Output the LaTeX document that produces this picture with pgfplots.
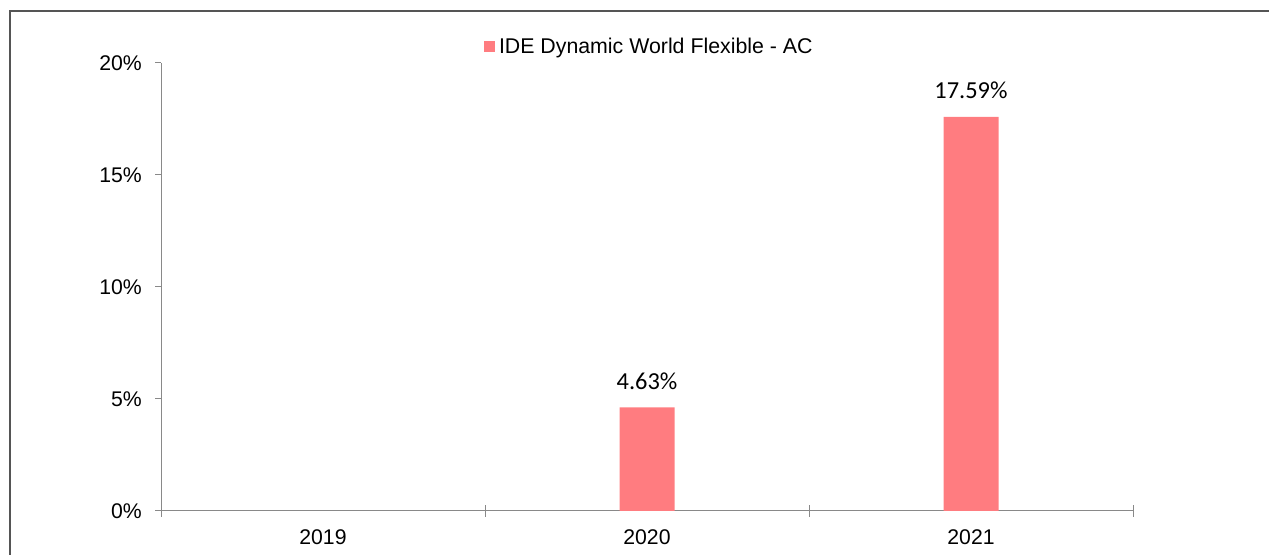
\documentclass[border=0pt]{standalone}
\usepackage{pgfplots}
\pgfplotsset{compat=1.18}
\usepackage{fontspec}
\setmainfont{Liberation Sans}
\newfontfamily\calibri{Carlito}
\definecolor{barrose}{HTML}{FF7C80}
\definecolor{axisgray}{HTML}{898989}
\definecolor{framegray}{HTML}{555555}
\begin{document}
\begin{tikzpicture}
% page = 1269 x 555 px, 1px = 1bp
\useasboundingbox (0,0) rectangle (1269bp,555bp);
% chart frame (only left and top edges fall on the page)
\draw[framegray, line width=1.2bp] (10bp,-10bp) -- (10bp,544bp) -- (1280bp,544bp);

\begin{axis}[
  at={(161bp,44bp)}, anchor=south west,
  scale only axis,
  width=972bp, height=448bp,
  xmin=0, xmax=3,
  ymin=0, ymax=20,
  axis lines=left,
  axis line style={axisgray, line width=1bp, -},
  clip=false,
  ytick={0,5,10,15,20},
  yticklabels={0\%,5\%,10\%,15\%,20\%},
  xtick={0,1,2,3},
  xticklabels={2019,2020,2021},
  x tick label as interval,
  tick align=outside,
  major tick length=6bp,
  tick style={axisgray, line width=1bp},
  extra x ticks={0,1,2,3},
  extra x tick labels={},
  extra x tick style={major tick length=11bp, tick align=center},
  ticklabel style={font=\fontsize{21.3}{25}\selectfont, inner sep=0pt},
  yticklabel style={anchor=east, xshift=-13bp},
  xticklabel style={anchor=base, yshift=-27bp},
  legend style={
    at={(0.3323,1.0357)}, anchor=west,
    draw=none, fill=none, inner sep=0pt, outer sep=0pt,
    nodes={inner sep=0pt, font=\fontsize{21.4}{25}\selectfont},
  },
  legend image code/.code={\fill[barrose] (0bp,-5.5bp) rectangle (11bp,5.5bp);},
]
\addplot[
  ybar, bar width=55bp, fill=barrose, draw=none,
  point meta=explicit symbolic,
  nodes near coords,
  every node near coord/.append style={
    anchor=base, yshift=18bp, inner sep=0pt, text=black,
    font=\calibri\fontsize{24.5}{28}\selectfont},
] coordinates {(1.5,4.63)[4.63\%] (2.5,17.59)[17.59\%]};
\addlegendentry{\hspace{4bp}IDE Dynamic World Flexible - AC}
\end{axis}
\end{tikzpicture}
\end{document}
